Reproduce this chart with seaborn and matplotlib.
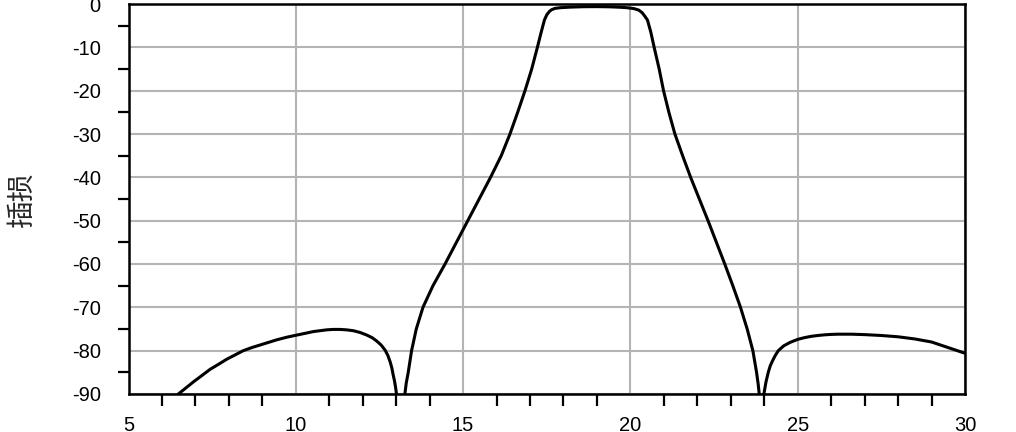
import matplotlib

matplotlib.use("Agg")
import matplotlib.pyplot as plt
import pandas as pd
import seaborn as sns
from matplotlib.ticker import MultipleLocator

# 读图得到的曲线点 (频率, 插损dB)
lobe1_x = [6.49, 6.7, 6.94, 7.2, 7.44, 7.7, 7.93, 8.18, 8.43, 8.68, 8.93, 9.18, 9.43,
           9.73, 10.03, 10.28, 10.52, 10.72, 10.92, 11.12, 11.32, 11.52, 11.72, 11.92,
           12.12, 12.28, 12.42, 12.55, 12.67, 12.75, 12.82, 12.87, 12.91, 12.95, 12.98, 13.01]
lobe1_y = [-90.0, -88.7, -87.2, -85.7, -84.3, -83.1, -82.0, -81.0, -80.0, -79.3, -78.7, -78.1, -77.5,
           -76.9, -76.4, -76.0, -75.6, -75.4, -75.2, -75.1, -75.1, -75.2, -75.4, -75.8,
           -76.4, -77.0, -77.8, -78.7, -79.9, -81.1, -82.6, -84.0, -85.6, -87.0, -88.4, -90.0]

main_x = [13.26, 13.3, 13.36, 13.46, 13.6, 13.8, 14.1, 14.46, 14.8, 15.14, 15.48,
          15.82, 16.14, 16.4, 16.63, 16.85, 17.05, 17.22, 17.33, 17.43, 17.5, 17.58,
          17.65, 17.75, 17.9, 18.2, 18.6, 19.0, 19.4, 19.7, 19.9, 20.1, 20.25, 20.35,
          20.43, 20.51, 20.61, 20.71, 20.86, 20.99, 21.15, 21.33, 21.56, 21.8, 22.06,
          22.32, 22.57, 22.82, 23.06, 23.29, 23.49, 23.66, 23.77, 23.82, 23.85]
main_y = [-90.0, -87.5, -85.0, -80.0, -75.0, -70.0, -65.0, -60.0, -55.0, -50.0, -45.0,
          -40.0, -35.0, -30.0, -25.0, -20.0, -15.0, -10.0, -6.6, -3.7, -2.5, -1.7,
          -1.3, -1.0, -0.85, -0.72, -0.62, -0.6, -0.65, -0.75, -0.85, -1.05, -1.4, -2.0,
          -2.8, -3.7, -6.5, -10.0, -15.0, -20.0, -25.0, -30.0, -35.0, -40.0, -45.0,
          -50.0, -55.0, -60.0, -65.0, -70.0, -75.0, -80.0, -85.0, -87.8, -90.0]

lobe3_x = [23.99, 24.05, 24.12, 24.18, 24.25, 24.33, 24.42, 24.58, 24.77, 25.0, 25.2,
           25.4, 25.6, 25.8, 26.0, 26.2, 26.6, 27.0, 27.5, 28.0, 28.5, 29.0, 29.5, 30.0]
lobe3_y = [-90.0, -87.3, -85.0, -83.5, -82.3, -81.1, -80.0, -78.9, -78.1, -77.4, -77.0,
           -76.7, -76.5, -76.35, -76.25, -76.2, -76.2, -76.3, -76.5, -76.8, -77.3, -78.0, -79.3, -80.6]

x_ticks = [5, 10, 15, 20, 25, 30]
y_ticks = [0, -10, -20, -30, -40, -50, -60, -70, -80, -90]
y_label = "插损"


def build_frame():
    parts = []
    for seg, (xs, ys) in enumerate([(lobe1_x, lobe1_y), (main_x, main_y), (lobe3_x, lobe3_y)]):
        parts.append(pd.DataFrame({"freq": xs, "loss": ys, "seg": seg}))
    return pd.concat(parts, ignore_index=True)


def main():
    sns.set_theme(style="white")
    plt.rcParams["font.family"] = ["Liberation Sans", "Noto Sans CJK SC", "DejaVu Sans"]
    plt.rcParams["axes.unicode_minus"] = False

    df = build_frame()

    fig = plt.figure(figsize=(10.16, 4.32), dpi=100)
    ax = fig.add_axes([0.1265, 0.088, 0.8233, 0.9027])

    sns.lineplot(data=df, x="freq", y="loss", units="seg", estimator=None,
                 sort=False, color="black", lw=2.2, ax=ax)

    ax.set_xlim(5, 30)
    ax.set_ylim(-90, 0)
    ax.set_xticks(x_ticks)
    ax.set_yticks(y_ticks)
    ax.xaxis.set_minor_locator(MultipleLocator(1))
    ax.yaxis.set_minor_locator(MultipleLocator(5))
    ax.grid(True, which="major", color="#b4b4b4", lw=1.5)
    ax.set_axisbelow(True)

    ax.tick_params(axis="both", which="major", direction="out", color="black",
                   width=1.6, labelsize=14.5, labelcolor="black")
    ax.tick_params(axis="y", which="major", length=16.5, pad=3.5)
    ax.tick_params(axis="x", which="major", length=15, pad=1)
    ax.tick_params(axis="y", which="minor", direction="out", length=8, width=1.6,
                   color="black", left=True)
    ax.tick_params(axis="x", which="minor", direction="out", length=8.6, width=1.6,
                   color="black", bottom=True)

    for side in ["left", "right", "top", "bottom"]:
        ax.spines[side].set_color("black")
        ax.spines[side].set_linewidth(1.8)

    ax.set_xlabel("")
    ax.set_ylabel(y_label, fontsize=20, family=["Noto Sans CJK SC", "DejaVu Sans"])
    ax.yaxis.set_label_coords(-0.11, 0.5)

    fig.savefig("out.png", dpi=100)
    plt.close(fig)


if __name__ == "__main__":
    main()
